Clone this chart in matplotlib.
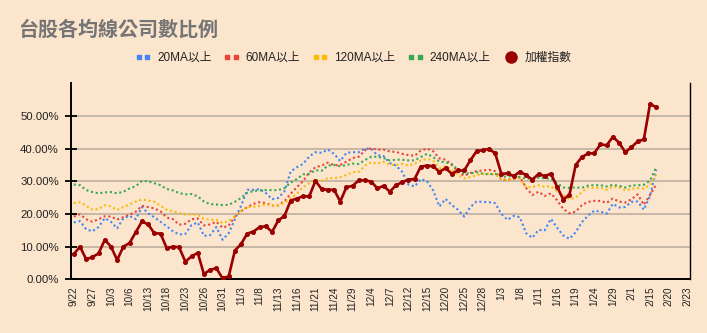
import matplotlib
matplotlib.use('Agg')
import matplotlib.pyplot as plt
from matplotlib.lines import Line2D
from matplotlib.legend_handler import HandlerLine2D
from matplotlib.ticker import PercentFormatter

plt.rcParams['font.family'] = ['Liberation Sans', 'Noto Sans CJK TC']

# 交易日 (9/22 ~ 2/23)
dates = ['9/22', '9/25', '9/26', '9/27', '9/28', '10/2', '10/3', '10/4', '10/5', '10/6',
         '10/11', '10/12', '10/13', '10/16', '10/17', '10/18', '10/19', '10/20', '10/23', '10/24',
         '10/25', '10/26', '10/27', '10/30', '10/31', '11/1', '11/2', '11/3', '11/6', '11/7',
         '11/8', '11/9', '11/10', '11/13', '11/14', '11/15', '11/16', '11/17', '11/20', '11/21',
         '11/22', '11/23', '11/24', '11/27', '11/28', '11/29', '11/30', '12/1', '12/4', '12/5',
         '12/6', '12/7', '12/8', '12/11', '12/12', '12/13', '12/14', '12/15', '12/18', '12/19',
         '12/20', '12/21', '12/22', '12/25', '12/26', '12/27', '12/28', '12/29', '1/2', '1/3',
         '1/4', '1/5', '1/8', '1/9', '1/10', '1/11', '1/12', '1/15', '1/16', '1/17',
         '1/18', '1/19', '1/22', '1/23', '1/24', '1/25', '1/26', '1/29', '1/30', '1/31',
         '2/1', '2/2', '2/5', '2/15', '2/16', '2/19', '2/20', '2/21', '2/22', '2/23']

# 各均線以上公司比例 (%)
ma20 = [17.4, 17.8, 15.3, 14.7, 16.0, 18.7, 17.6, 15.6, 18.7, 19.4,
        18.4, 22.1, 20.2, 19.0, 17.6, 16.2, 14.7, 13.7, 13.9, 16.6,
        17.4, 13.3, 13.5, 16.0, 12.1, 14.1, 18.4, 22.5, 27.4, 27.4,
        27.6, 26.4, 24.5, 24.9, 26.9, 33.0, 34.3, 35.3, 37.6, 38.9,
        38.7, 39.7, 38.4, 36.2, 38.7, 38.9, 38.9, 40.0, 39.9, 38.0,
        37.7, 35.6, 34.8, 32.9, 29.0, 28.4, 30.7, 30.0, 27.2, 22.3,
        24.6, 22.7, 21.3, 19.2, 22.1, 23.8, 23.7, 23.6, 23.3, 20.0,
        18.2, 19.4, 19.0, 14.1, 12.7, 15.1, 15.0, 18.5, 15.8, 13.4,
        12.4, 14.4, 17.5, 19.5, 21.0, 20.7, 20.1, 23.1, 22.0, 22.1,
        23.7, 23.8, 21.3, 25.5, 33.5]
ma60 = [19.2, 19.9, 18.4, 17.6, 18.4, 19.3, 19.2, 18.3, 19.0, 19.8,
        20.7, 22.5, 22.1, 21.7, 20.8, 18.9, 18.4, 16.7, 17.0, 18.4,
        18.6, 16.5, 16.8, 17.6, 15.8, 16.4, 19.2, 20.8, 22.1, 23.1,
        23.6, 23.3, 22.6, 22.6, 23.9, 26.2, 28.2, 30.0, 32.7, 34.3,
        34.8, 35.7, 34.9, 35.0, 36.0, 37.1, 37.5, 39.5, 40.1, 39.7,
        39.7, 39.1, 39.0, 38.4, 38.0, 37.8, 39.4, 40.0, 39.2, 37.0,
        36.6, 35.0, 32.9, 31.7, 32.5, 33.1, 33.3, 33.5, 33.1, 30.5,
        30.5, 30.7, 31.3, 28.0, 25.8, 26.8, 25.5, 26.3, 24.2, 21.5,
        20.2, 20.7, 22.7, 23.7, 24.0, 24.0, 23.4, 24.7, 23.8, 23.5,
        24.5, 26.0, 22.8, 25.8, 29.0]
ma120 = [23.3, 23.6, 22.5, 21.3, 21.5, 22.7, 22.3, 21.2, 22.1, 22.9,
         23.8, 24.4, 24.1, 23.7, 22.5, 21.3, 20.8, 20.3, 19.8, 19.9,
         19.7, 18.5, 18.2, 18.2, 17.2, 17.8, 19.2, 21.0, 22.1, 22.2,
         22.4, 23.0, 22.6, 22.7, 23.3, 24.9, 26.2, 28.2, 29.4, 30.4,
         30.2, 31.0, 30.9, 31.2, 32.0, 32.8, 32.9, 34.8, 35.8, 35.4,
         36.0, 35.0, 35.0, 35.3, 34.8, 35.4, 36.3, 36.9, 36.3, 34.0,
         34.6, 33.5, 31.9, 30.9, 31.3, 31.9, 32.3, 32.3, 32.1, 30.7,
         30.3, 30.7, 30.9, 28.2, 28.2, 28.8, 28.3, 28.5, 26.9, 25.7,
         24.5, 25.0, 26.7, 28.2, 27.9, 28.1, 27.4, 28.4, 28.2, 27.2,
         27.7, 27.9, 27.8, 28.8, 32.0]
ma240 = [29.0, 28.8, 27.3, 26.7, 26.3, 26.6, 26.7, 26.3, 26.8, 27.8,
         28.5, 30.1, 30.0, 29.4, 28.8, 27.6, 27.2, 26.4, 26.0, 26.1,
         25.4, 23.8, 23.0, 22.9, 22.7, 22.8, 23.7, 24.9, 26.5, 27.0,
         27.2, 27.3, 27.3, 27.3, 27.9, 29.6, 30.7, 32.1, 32.3, 33.4,
         33.2, 34.8, 35.0, 34.6, 35.0, 35.4, 35.3, 36.5, 37.5, 37.5,
         37.1, 36.4, 36.6, 36.6, 36.4, 36.4, 37.4, 38.4, 37.4, 36.0,
         35.8, 35.3, 33.4, 32.4, 32.4, 32.8, 32.3, 32.1, 32.3, 31.4,
         31.5, 31.6, 31.3, 30.8, 30.9, 31.1, 30.9, 30.8, 29.4, 28.1,
         28.0, 28.1, 28.0, 28.7, 28.8, 28.8, 28.4, 28.9, 28.6, 28.1,
         28.7, 28.8, 28.9, 30.2, 34.3]
# 加權指數 (正規化後比例 %)
taiex = [7.7, 10.0, 6.1, 6.8, 7.9, 12.1, 10.0, 5.9, 10.0, 11.1,
         14.4, 17.7, 16.8, 14.1, 14.0, 9.5, 10.0, 9.8, 5.4, 7.0,
         8.1, 1.6, 2.9, 3.4, 0.3, 0.9, 8.8, 10.8, 14.0, 14.6,
         16.0, 16.2, 14.5, 18.0, 19.4, 24.1, 24.7, 25.4, 25.4, 30.1,
         27.6, 27.4, 27.4, 23.8, 28.2, 28.6, 30.3, 30.3, 29.9, 27.8,
         28.6, 26.8, 28.8, 29.7, 30.5, 30.7, 34.5, 34.8, 34.6, 32.9,
         34.0, 32.3, 33.3, 33.3, 36.4, 39.2, 39.5, 39.9, 38.6, 32.3,
         32.4, 31.6, 32.9, 31.9, 30.5, 32.2, 31.6, 32.3, 28.3, 24.4,
         25.9, 35.0, 37.4, 38.5, 38.6, 41.3, 41.0, 43.6, 41.8, 38.9,
         40.4, 42.2, 42.8, 53.7, 52.6]

bg = '#fce5cd'
fig = plt.figure(figsize=(7.07, 3.33), dpi=100, facecolor=bg)
ax = fig.add_axes([0.1, 0.1613, 0.8764, 0.5887])
ax.set_facecolor(bg)

series = [(ma20, '20MA以上', '#4285f4'),
          (ma60, '60MA以上', '#ea4335'),
          (ma120, '120MA以上', '#fbbc04'),
          (ma240, '240MA以上', '#34a853')]
handles = []
for vals, name, c in series:
    ax.plot(range(len(vals)), [v / 100 for v in vals], color=c, lw=1.5,
            ls=(0, (1, 1.3)), dash_capstyle='butt', zorder=3)
    handles.append(Line2D([], [], ls='', marker='s', ms=2.9, color=c))

ax.plot(range(len(taiex)), [v / 100 for v in taiex], color='#990000', lw=1.9,
        marker='o', ms=2.6, zorder=4)
h_idx = Line2D([], [], ls='', marker='o', ms=8, color='#990000')
handles.append(h_idx)

ax.set_xlim(-0.5, len(dates) - 0.5)
ax.set_ylim(0, 0.6)
ax.set_xticks(range(0, len(dates), 3))
ax.set_xticklabels(dates[::3], rotation=90, fontsize=7.2, color='#222222')
ax.set_yticks([0, 0.1, 0.2, 0.3, 0.4, 0.5])
ax.yaxis.set_major_formatter(PercentFormatter(1.0, decimals=2))
ax.tick_params(axis='y', direction='inout', length=9, width=1.3, labelsize=8.2,
               labelcolor='#222222', pad=4)
ax.tick_params(axis='x', length=0, pad=5)
ax.grid(axis='y', color='#b8ab9c', lw=1.1)
ax.set_axisbelow(True)
ax.spines['top'].set_visible(False)
ax.spines['left'].set_linewidth(1.4)
ax.spines['bottom'].set_linewidth(1.4)
ax.spines['right'].set_linewidth(1.0)

fig.text(18 / 707, 1 - 29 / 333, '台股各均線公司數比例', fontsize=14.4, fontweight='bold',
         color='#757575', va='center', family=['Noto Sans CJK TC'])

labels = [s[1] for s in series] + ['加權指數']
fig.legend(handles, labels, loc='center', bbox_to_anchor=(0.5, 1 - 58 / 333), ncol=5,
           frameon=False, fontsize=8.5, numpoints=2, handlelength=1.3, handletextpad=0.55,
           columnspacing=1.05, labelcolor='#222222',
           handler_map={h_idx: HandlerLine2D(numpoints=1)})

fig.savefig('out.png', dpi=100, facecolor=bg)
